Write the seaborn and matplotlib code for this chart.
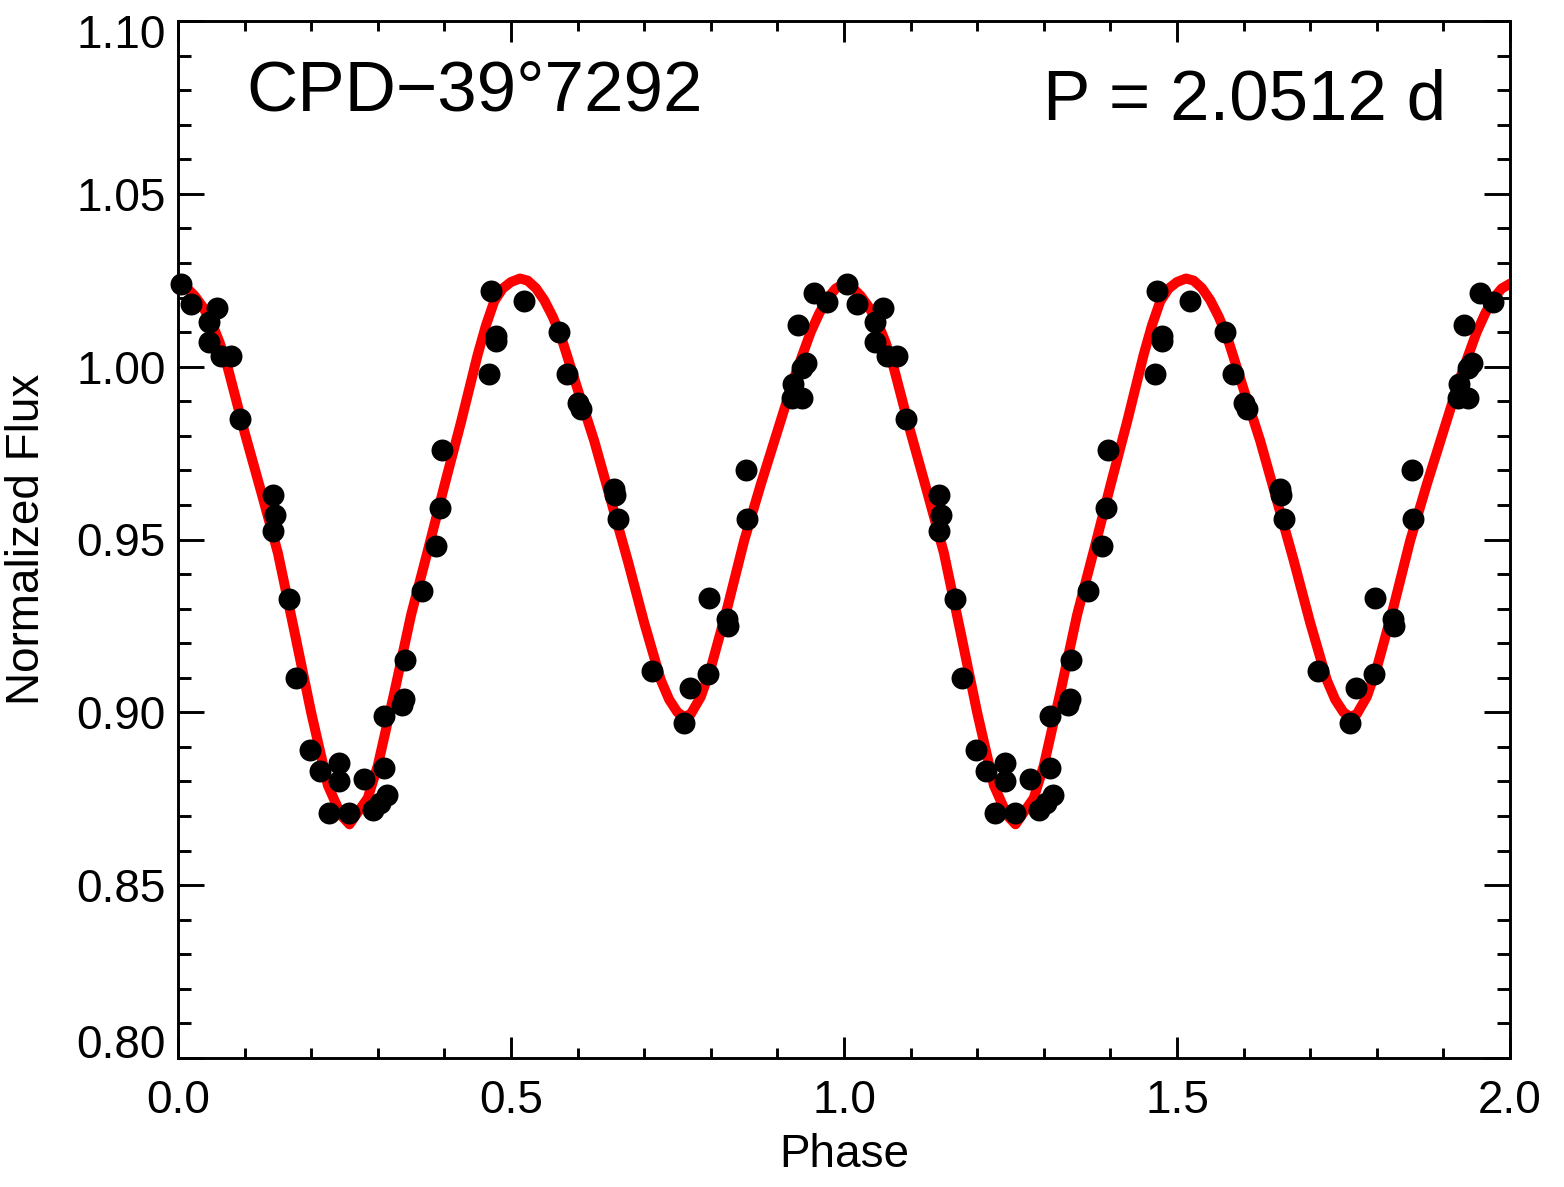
import numpy as np
import pandas as pd
import matplotlib
matplotlib.use("Agg")
import matplotlib.pyplot as plt
import seaborn as sns
from matplotlib.ticker import MultipleLocator
from matplotlib.transforms import ScaledTranslation

# ---------------- data (one cycle, plotted twice) ----------------
obs_phase = [0.005, 0.020, 0.046, 0.058, 0.047, 0.065, 0.080, 0.093, 0.143, 0.146,
             0.143, 0.166, 0.177, 0.198, 0.213, 0.241, 0.241, 0.227, 0.257, 0.280,
             0.293, 0.303, 0.314, 0.310, 0.310, 0.337, 0.340, 0.341, 0.367, 0.388,
             0.394, 0.396, 0.4675, 0.478, 0.477, 0.470, 0.520, 0.5725, 0.5835, 0.601,
             0.605, 0.654, 0.656, 0.661, 0.711, 0.769, 0.760, 0.796, 0.798, 0.824,
             0.826, 0.853, 0.855, 0.931, 0.943, 0.9365, 0.924, 0.9215, 0.9365, 0.955,
             0.974]
obs_flux = [1.0240, 1.0180, 1.0128, 1.0170, 1.0070, 1.0030, 1.0030, 0.9850, 0.9630, 0.9570,
            0.9526, 0.9328, 0.9100, 0.8890, 0.8830, 0.8852, 0.8800, 0.8710, 0.8710, 0.8808,
            0.8717, 0.8737, 0.8760, 0.8840, 0.8990, 0.9020, 0.9040, 0.9150, 0.9350, 0.9480,
            0.9590, 0.9760, 0.9980, 1.0090, 1.0075, 1.0218, 1.0189, 1.0100, 0.9980, 0.9896,
            0.9878, 0.9645, 0.9630, 0.9560, 0.9120, 0.9070, 0.8970, 0.9110, 0.9330, 0.9270,
            0.9250, 0.9700, 0.9560, 1.0120, 1.0010, 0.9996, 0.9950, 0.9910, 0.9910, 1.0213,
            1.0187]

model_phase = [0.000, 0.0125, 0.025, 0.0375, 0.050, 0.0625, 0.075, 0.100, 0.125, 0.150,
               0.175, 0.200, 0.225, 0.245, 0.2575, 0.270, 0.285, 0.300, 0.325, 0.350,
               0.375, 0.400, 0.425, 0.450, 0.4625, 0.475, 0.4875, 0.500, 0.5135, 0.525,
               0.5375, 0.550, 0.5625, 0.575, 0.600, 0.625, 0.650, 0.675, 0.700, 0.725,
               0.7375, 0.7500, 0.760, 0.7700, 0.7850, 0.800, 0.825, 0.850, 0.875, 0.900,
               0.925, 0.950, 0.9625, 0.975, 0.9875]
model_flux = [1.0240, 1.0229, 1.0205, 1.0172, 1.0130, 1.0070, 0.9995, 0.9810, 0.9637, 0.9461,
              0.9232, 0.8999, 0.8789, 0.8702, 0.8676, 0.8711, 0.8752, 0.8846, 0.9059, 0.9282,
              0.9467, 0.9656, 0.9840, 1.0035, 1.0120, 1.0190, 1.0226, 1.0245, 1.0255, 1.0249,
              1.0227, 1.0192, 1.0145, 1.0088, 0.9935, 0.9785, 0.9613, 0.9441, 0.9259, 0.9093,
              0.9037, 0.9000, 0.8987, 0.8995, 0.9045, 0.9128, 0.9304, 0.9496, 0.9659, 0.9813,
              0.9967, 1.0100, 1.0153, 1.0197, 1.0226]

x_ticks = [0.0, 0.5, 1.0, 1.5, 2.0]
x_tick_labels = ["0.0", "0.5", "1.0", "1.5", "2.0"]
y_ticks = [0.80, 0.85, 0.90, 0.95, 1.00, 1.05, 1.10]
y_tick_labels = ["0.80", "0.85", "0.90", "0.95", "1.00", "1.05", "1.10"]
star_name = "CPD\u221239\u00b07292"
period_text = "P = 2.0512 d"
n_cycles = 2

# ---------------- frames ----------------
points = pd.DataFrame({
    "phase": np.concatenate([np.asarray(obs_phase) + k for k in range(n_cycles)]),
    "flux": np.tile(obs_flux, n_cycles),
})
model = pd.DataFrame({
    "phase": np.concatenate([np.asarray(model_phase) + k for k in range(n_cycles)] + [[float(n_cycles)]]),
    "flux": np.concatenate([np.tile(model_flux, n_cycles), [model_flux[0]]]),
})

# ---------------- style ----------------
sns.set_style("ticks")
plt.rcParams["font.family"] = ["Liberation Sans", "DejaVu Sans"]
plt.rcParams["axes.linewidth"] = 2.1
for key in ["text.color", "axes.labelcolor", "xtick.color", "ytick.color", "axes.edgecolor"]:
    plt.rcParams[key] = "black"

W, H = 1564, 1187
fig = plt.figure(figsize=(W / 100, H / 100), dpi=100)
L, R, T, B = 178, 1510, 21, 1058
ax = fig.add_axes([L / W, 1 - B / H, (R - L) / W, (B - T) / H])

sns.lineplot(data=model, x="phase", y="flux", color="#ff0000", linewidth=7.2,
             sort=False, ax=ax, zorder=2)
sns.scatterplot(data=points, x="phase", y="flux", color="black", s=250,
                linewidth=0, ax=ax, zorder=3, clip_on=False)

ax.set_xlim(0, 2)
ax.set_ylim(0.80, 1.10)
ax.set_xticks(x_ticks)
ax.set_xticklabels(x_tick_labels)
ax.set_yticks(y_ticks)
ax.set_yticklabels(y_tick_labels)
ax.xaxis.set_minor_locator(MultipleLocator(0.1))
ax.yaxis.set_minor_locator(MultipleLocator(0.01))

for s in ax.spines.values():
    s.set_visible(True)
    s.set_linewidth(2.1)
    s.set_color("black")

ax.tick_params(axis="both", which="both", direction="in", top=True, right=True,
               width=2.1, colors="black", labelcolor="black", labelsize=33)
ax.tick_params(axis="x", which="major", length=15, pad=15)
ax.tick_params(axis="x", which="minor", length=7.5)
ax.tick_params(axis="y", which="major", length=19, pad=9)
ax.tick_params(axis="y", which="minor", length=9.5)

ylabs = ax.yaxis.get_major_ticks()
ylabs[0].label1.set_va("baseline")
ylabs[-1].label1.set_va("top")
top_lab = ylabs[-1].label1
top_lab.set_transform(top_lab.get_transform() + ScaledTranslation(0, 5 / 72, fig.dpi_scale_trans))

ax.set_xlabel("Phase", fontsize=33, color="black")
ax.set_ylabel("Normalized Flux", fontsize=33, color="black")
ax.xaxis.set_label_coords(0.5, -0.072)
ax.yaxis.set_label_coords(-0.097, 0.5)

ax.text(0.103, 1.0742, star_name, fontsize=51, ha="left", va="baseline", color="black")
ax.text(1.904, 1.0715, period_text, fontsize=51, ha="right", va="baseline", color="black")

fig.savefig("out.png", dpi=100, facecolor="white")
